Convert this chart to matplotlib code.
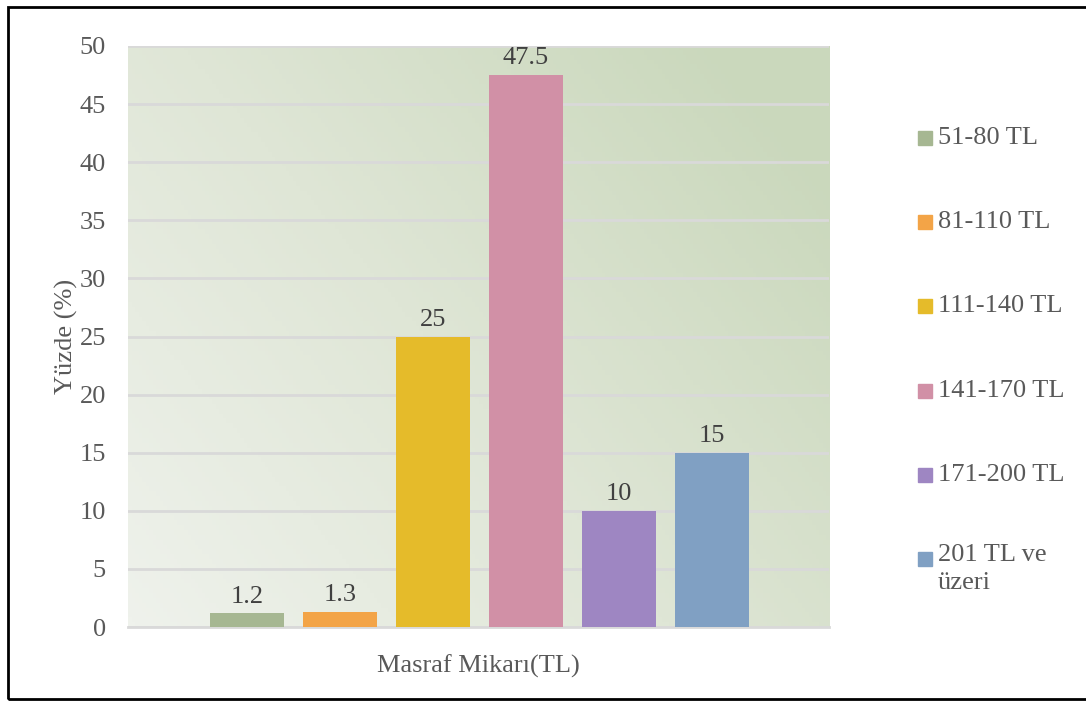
import numpy as np
import matplotlib.pyplot as plt
from matplotlib.patches import Rectangle
from matplotlib.colors import LinearSegmentedColormap

# data
categories = ["51-80 TL", "81-110 TL", "111-140 TL", "141-170 TL", "171-200 TL", "201 TL ve\nüzeri"]
values = [1.2, 1.3, 25, 47.5, 10, 15]
value_labels = ["1.2", "1.3", "25", "47.5", "10", "15"]
colors = ["#a6b792", "#f3a447", "#e5bb2a", "#d190a6", "#9e86c2", "#80a0c3"]
yticks = [0, 5, 10, 15, 20, 25, 30, 35, 40, 45, 50]

plt.rcParams['font.family'] = ['Liberation Serif', 'DejaVu Serif']
text_col = "#595959"
fs = 19

fig = plt.figure(figsize=(10.86, 7.02), dpi=100)
ax = fig.add_axes([0.1179, 0.1068, 0.6455, 0.8277])

# gradient background in plot area
nx, ny = 200, 120
gx = np.linspace(0, 1, nx)
gy = np.linspace(0, 1, ny)
X, Y = np.meshgrid(gx, gy)
G = np.clip(0.65 * X + 0.45 * Y, 0, 1)
cmap = LinearSegmentedColormap.from_list("bg", ["#eff2ec", "#dfe6d6", "#cad8bc"])
ax.imshow(G, cmap=cmap, extent=[0, 1, 0, 1], transform=ax.transAxes,
          origin="lower", aspect="auto", zorder=0)

x = np.arange(len(values))
bars = ax.bar(x, values, width=0.8, color=colors, zorder=3)
ax.bar_label(bars, labels=value_labels, padding=4, fontsize=fs, color="#404040")

ax.set_xlim(-1.28, 6.26)
ax.set_ylim(0, 50)
ax.set_yticks(yticks)
ax.set_xticks([])
ax.tick_params(axis='y', length=0, pad=16, labelsize=fs, labelcolor=text_col)
ax.grid(axis='y', color="#d9d9d9", linewidth=2, zorder=1)
ax.set_axisbelow(True)
for s in ["left", "right", "top"]:
    ax.spines[s].set_visible(False)
ax.spines["bottom"].set_color("#d9d9d9")
ax.spines["bottom"].set_linewidth(2)

ax.set_ylabel("Yüzde (%)", fontsize=fs, color=text_col, labelpad=1)
ax.set_xlabel("Masraf Mikarı(TL)", fontsize=fs, color=text_col, labelpad=20)

# legend drawn on the figure
W, H = 1086, 702
leg_y = [138, 222, 306, 391, 475, 559]
for lab, col, yy in zip(categories, colors, leg_y):
    fig.add_artist(Rectangle((918 / W, 1 - (yy + 7) / H), 14 / W, 14 / H,
                             transform=fig.transFigure, color=col))
    fig.text(938 / W, 1 - (yy - 15) / H if "\n" in lab else 1 - yy / H, lab,
             fontsize=fs, color=text_col,
             va="top" if "\n" in lab else "center", ha="left",
             linespacing=1.38)

# outer frame
fig.add_artist(Rectangle((8 / W, 1 - 699 / H), 1.0, (699 - 7) / H,
                         transform=fig.transFigure, fill=False,
                         edgecolor="black", linewidth=2))

fig.savefig("out.png", dpi=100)
